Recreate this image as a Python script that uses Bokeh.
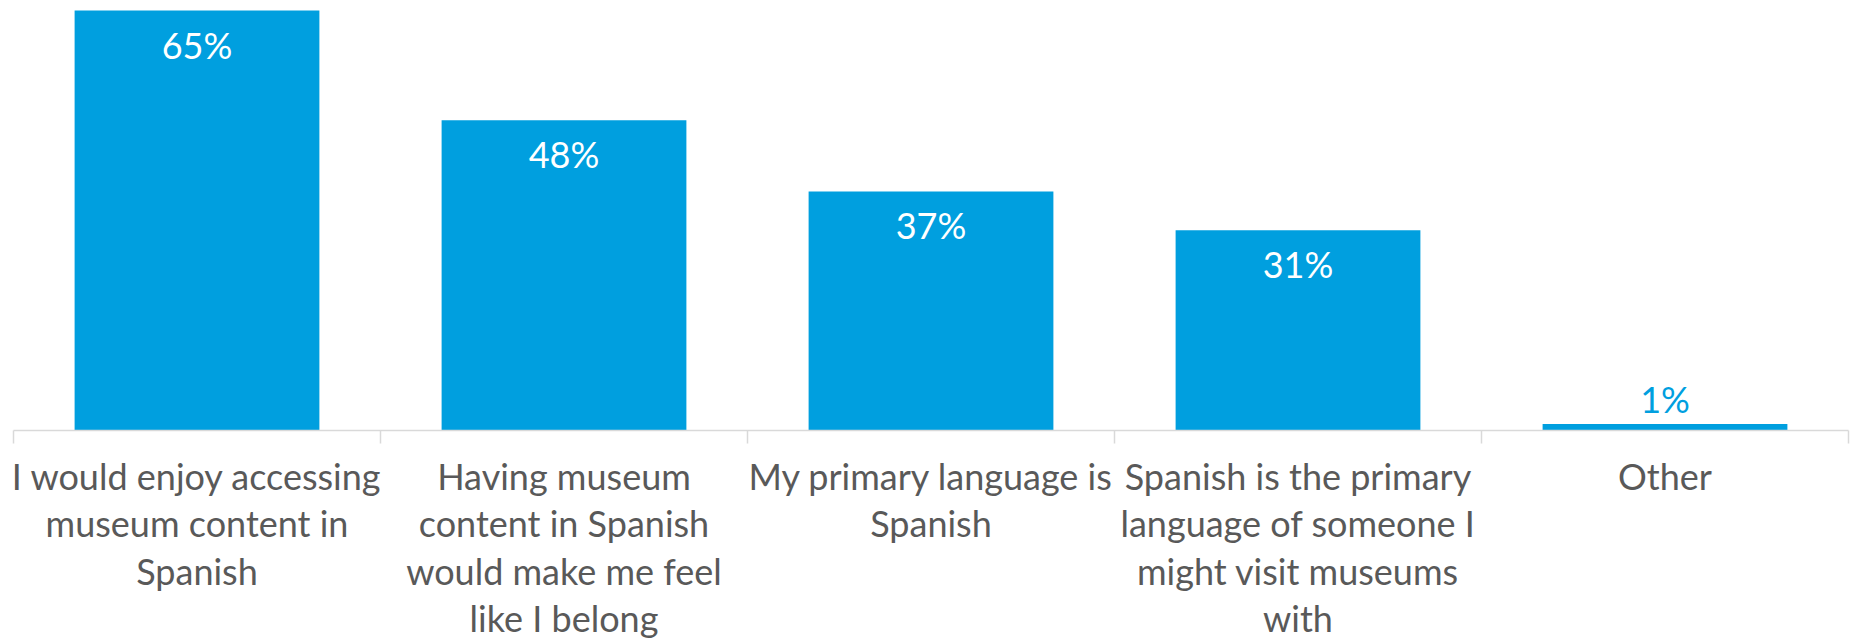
from bokeh.plotting import figure
from bokeh.models import Range1d, FixedTicker, ColumnDataSource
from bokeh.core.properties import value
from bokeh.embed import file_html
from bokeh.resources import INLINE

categories = [
    "I would enjoy accessing\nmuseum content in\nSpanish",
    "Having museum\ncontent in Spanish\nwould make me feel\nlike I belong",
    "My primary language is\nSpanish",
    "Spanish is the primary\nlanguage of someone I\nmight visit museums\nwith",
    "Other",
]
values = [65, 48, 37, 31, 1]
value_labels = ["65%", "48%", "37%", "31%", "1%"]

BLUE = "#009FDF"
GREY_TEXT = "#595959"
AXIS_GREY = "#D9D9D9"
FONT = "Lato"
FS = "36px"

n = len(categories)
centers = [i + 0.5 for i in range(n)]

inside = [v > 5 for v in values]
src = ColumnDataSource(dict(
    x=centers,
    top=values,
    lab=value_labels,
    col=["white" if ins else BLUE for ins in inside],
    yoff=[34 if ins else -25 for ins in inside],
))

p = figure(width=1855, height=644, output_backend="svg", toolbar_location=None,
           x_range=Range1d(0, n), y_range=Range1d(0, 66.55),
           y_axis_location=None,
           min_border_left=13, min_border_right=7, min_border_top=0,
           min_border_bottom=214)
p.outline_line_color = None
p.xgrid.visible = False
p.ygrid.visible = False
p.background_fill_color = "white"
p.border_fill_color = "white"

p.vbar(x="x", top="top", width=0.667, bottom=0, source=src,
       fill_color=BLUE, line_color=None)

p.text(x="x", y="top", text="lab", source=src, text_color="col",
       y_offset="yoff", text_align="center", text_baseline="alphabetic",
       text_font=value(FONT), text_font_size=FS)

ax = p.xaxis[0]
ax.ticker = FixedTicker(ticks=centers, minor_ticks=list(range(n + 1)))
ax.major_label_overrides = {c: lab for c, lab in zip(centers, categories)}
ax.axis_line_color = AXIS_GREY
ax.axis_line_width = 1.5
ax.major_tick_line_color = None
ax.major_tick_in = 0
ax.major_tick_out = 0
ax.minor_tick_line_color = AXIS_GREY
ax.minor_tick_line_width = 1.5
ax.minor_tick_in = 0
ax.minor_tick_out = 13
ax.major_label_standoff = 10
ax.major_label_text_font = FONT
ax.major_label_text_font_size = FS
ax.major_label_text_color = GREY_TEXT
ax.major_label_text_line_height = 1.08

open("out.html", "w").write(file_html(p, INLINE))
